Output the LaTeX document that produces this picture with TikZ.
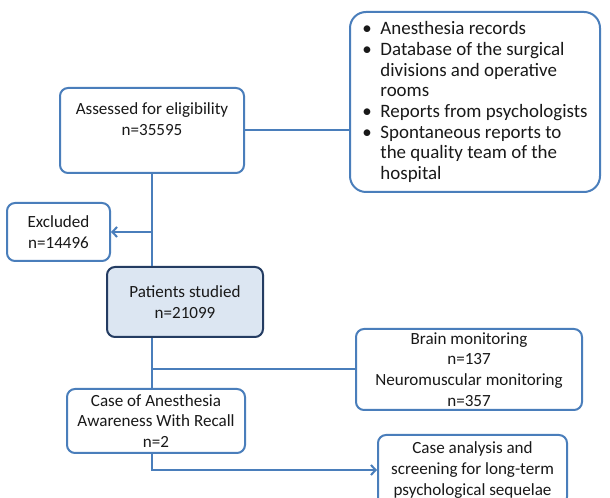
\documentclass[tikz,border=0pt]{standalone}
\usepackage{fontspec}
\setmainfont{Carlito}
\usetikzlibrary{calc}
\usetikzlibrary{arrows.meta}
\definecolor{linkblue}{RGB}{74,126,187}
\definecolor{patfill}{RGB}{220,230,242}
\definecolor{patline}{RGB}{36,60,98}
\providecommand\srcitem{\makebox[13.5pt][l]{\textbullet}}
\providecommand\srcgap{\hspace*{13.5pt}}

\begin{document}
\begin{tikzpicture}[%
        x = 0.75pt,
        y = -0.75pt,
        line width = 1.5pt,
        draw = linkblue,
        >={Straight Barb[length=3.5pt, width=7.5pt]},
        box/.style = {draw = linkblue, fill = white, rounded corners = 6pt,
            align = center, inner sep = 2pt, text = black!90,
            font = \fontsize{12.8}{15.5}\selectfont},
        ]

\useasboundingbox[clip] (0,0) rectangle (610,498);

\node (src) [box, rounded corners = 12pt, align = left,
    minimum width = 187.5pt, minimum height = 135pt,
    font = \fontsize{14.2}{15.5}\selectfont] at (475,102)
    {\srcitem Anesthesia records\\
     \srcitem Database of the surgical\\
     \srcgap divisions and operative\\
     \srcgap rooms\\
     \srcitem Reports from psychologists\\
     \srcitem Spontaneous reports to\\
     \srcgap the quality team of the\\
     \srcgap hospital};

\node (assess) [box, text depth = 17pt, minimum width = 138pt, minimum height = 63.75pt] at (152,130.5)
    {Assessed for eligibility\\ n=35595};
\node (excl) [box, minimum width = 77.25pt, minimum height = 43.5pt] at (58.5,232)
    {Excluded\\ n=14496};
\node (pat) [box, draw = patline, fill = patfill, minimum width = 117pt, minimum height = 52.5pt] at (185,302)
    {Patients studied\\ n=21099};
\node (brain) [box, minimum width = 169.5pt, minimum height = 60.75pt] at (469,369.5)
    {Brain monitoring\\ n=137\\ Neuromuscular monitoring\\ n=357};
\node (case) [box, minimum width = 133.5pt, minimum height = 48pt] at (156,421)
    {Case of Anesthesia\\ Awareness With Recall\\ n=2};
\node (ana) [box, minimum width = 141.75pt, minimum height = 52.5pt] at (472.5,470)
    {Case analysis and\\ screening for long-term\\ psychological sequelae};

\coordinate (trunk) at (assess.south);

\draw (assess.east) -- (assess.east -| src.west);
\draw (trunk) -- (trunk |- pat.north);
\draw[->] (trunk |- excl.east) -- (excl.east);
\draw (trunk |- pat.south) -- (trunk |- case.north);
\draw (trunk |- brain.west) -- (brain.west);
\draw[->] (trunk |- case.south) -- (trunk |- ana.west) -- (ana.west);

\end{tikzpicture}
\end{document}
